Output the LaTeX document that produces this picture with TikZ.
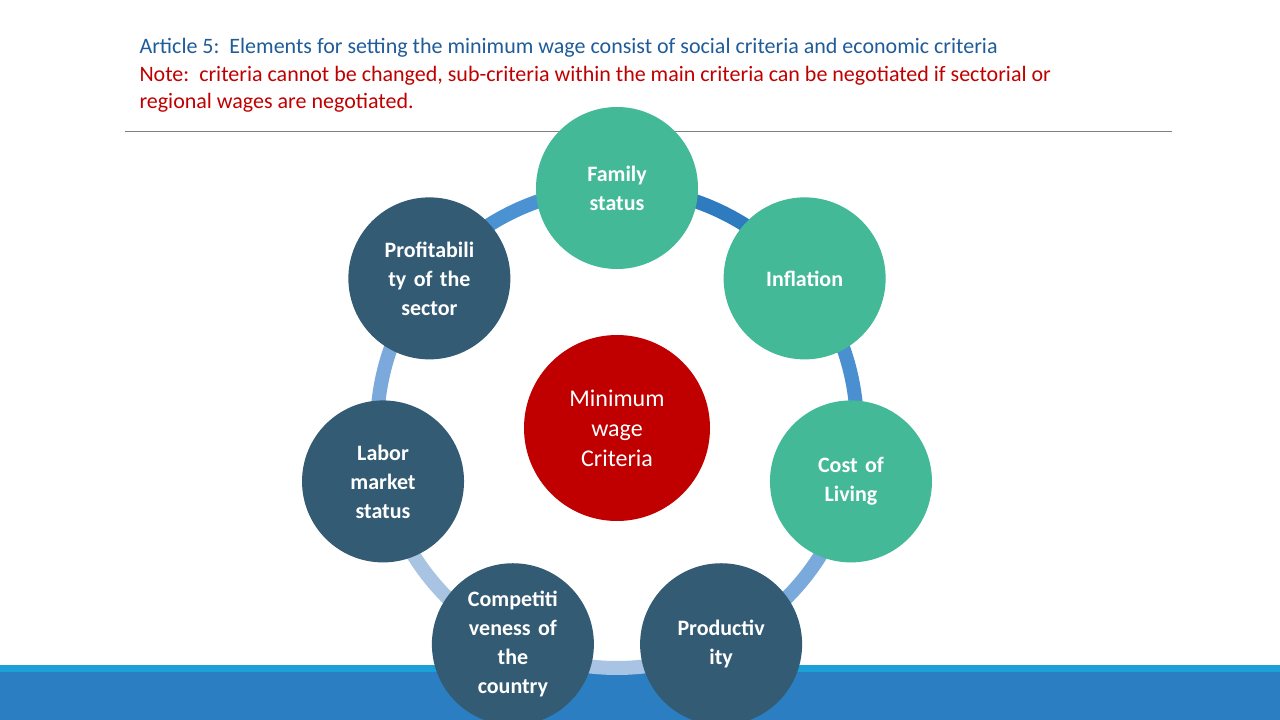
\documentclass[tikz,border=0pt]{standalone}
\usepackage{fontspec}
\setmainfont{Carlito}
\usetikzlibrary{calc}
\definecolor{titleblue}{HTML}{1F5C99}
\definecolor{notered}{HTML}{C00000}
\definecolor{socgreen}{HTML}{43B997}
\definecolor{ecoslate}{HTML}{335B74}
\definecolor{barblue}{HTML}{2B7EC1}
\definecolor{barlight}{HTML}{1CA0D8}
\begin{document}
\begin{tikzpicture}[x=1pt, y=-1pt,
    crit/.style = {circle, minimum size=162pt, inner sep=0pt, align=center,
                   text width=120pt, text=white, font=\fontsize{22}{29}\selectfont\bfseries},
    ringseg/.style = {line width=14pt}]
    \useasboundingbox (0,0) rectangle (1280,720);
    \fill[white] (0,0) rectangle (1280,720);

    % heading
    \node[anchor=west, text=titleblue, font=\fontsize{22}{26}\selectfont] (head) at (136,48)
        {Article 5:\ \ Elements for setting the minimum wage consist of social criteria and economic criteria};
    \node[anchor=north west, text=notered, align=left, font=\fontsize{22}{27}\selectfont] (note) at (136,63)
        {Note:\ \ criteria cannot be changed, sub-criteria within the main criteria can be negotiated if sectorial or\\regional wages are negotiated.};
    \draw[gray, line width=0.8pt] (125,131) -- (1172,131);

    % footer bar
    \fill[barblue] (0,665) rectangle (1280,720);
    \fill[barlight] (0,665) rectangle (1280,672);

    % ring
    \coordinate (mid) at (617,428);
    \foreach \a/\c in {90/2E7BBF, 38.57/4A90D0, -12.86/7AA9DC, -64.29/A8C3E4,
                       -115.71/A9C3E3, -167.14/7CA9DC, -218.57/4B92D2} {
        \definecolor{segcol}{HTML}{\c}
        \draw[ringseg, segcol] ($(mid)+(\a:240 and -240)$) arc[start angle=-\a, delta angle=51.43, radius=240];
    }

    \node[crit, fill=notered, minimum size=186pt, font=\fontsize{24}{30}\selectfont] (center) at (mid) {Minimum\\wage\\Criteria};
    \node[crit, fill=socgreen] (family) at ($(mid)+(90:240 and -240)$) {Family\\status};
    \node[crit, fill=socgreen] (inflation) at ($(mid)+(38.57:240 and -240)$) {Inflation};
    \node[crit, fill=socgreen] (living) at ($(mid)+(-12.86:240 and -240)$) {Cost of\\Living};
    \node[crit, fill=ecoslate] (product) at ($(mid)+(-64.29:240 and -240)$) {Productiv\\ity};
    \node[crit, fill=ecoslate] (compete) at ($(mid)+(-115.71:240 and -240)$) {Competiti\\veness of\\the\\country};
    \node[crit, fill=ecoslate] (labor) at ($(mid)+(-167.14:240 and -240)$) {Labor\\market\\status};
    \node[crit, fill=ecoslate] (profit) at ($(mid)+(141.43:240 and -240)$) {Profitabili\\ty of the\\sector};
\end{tikzpicture}
\end{document}
